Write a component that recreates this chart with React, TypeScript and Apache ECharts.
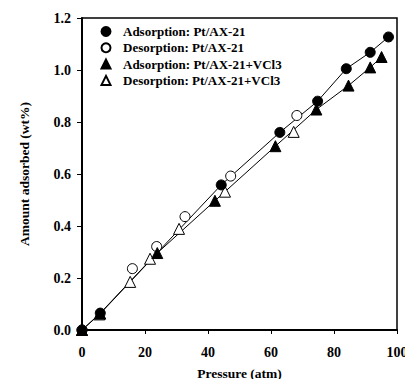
import React, { useEffect, useRef } from "react";
import * as echarts from "echarts";

const adsPtX = [0, 5.8, 44.2, 62.8, 74.8, 83.9, 91.5, 97.3];
const adsPtY = [0, 0.065, 0.558, 0.76, 0.88, 1.005, 1.068, 1.127];
const desPtX = [0, 16, 23.7, 32.7, 47.2, 68.2];
const desPtY = [0, 0.236, 0.321, 0.436, 0.592, 0.825];
const adsVX = [0, 5.8, 23.9, 42.2, 61.4, 74.4, 84.6, 91.5, 95.1];
const adsVY = [0, 0.063, 0.296, 0.497, 0.707, 0.848, 0.94, 1.01, 1.05];
const desVX = [0, 5.5, 15.3, 21.6, 30.8, 45.4, 67.2];
const desVY = [0, 0.06, 0.185, 0.274, 0.389, 0.532, 0.762];

const xTicks = [0, 20, 40, 60, 80, 100];
const yTicks = [0, 0.2, 0.4, 0.6, 0.8, 1.0, 1.2];

const names = [
  "Adsorption: Pt/AX-21",
  "Desorption: Pt/AX-21",
  "Adsorption: Pt/AX-21+VCl3",
  "Desorption: Pt/AX-21+VCl3",
];

const zip = (xs: number[], ys: number[]) => xs.map((x, i) => [x, ys[i]]);

export default function App() {
  const ref = useRef<HTMLDivElement>(null);
  useEffect(() => {
    if (!ref.current) return;
    const chart = echarts.init(ref.current, undefined, { renderer: "svg" });
    const font = "'Liberation Serif', 'Times New Roman', serif";
    const filled = { color: "#000", borderColor: "#000", borderWidth: 1, opacity: 1 };
    const open = { color: "#fff", borderColor: "#000", borderWidth: 1, opacity: 1 };
    chart.setOption({
      animation: false,
      backgroundColor: "#fff",
      textStyle: { fontFamily: font },
      grid: {
        left: 82,
        right: 16,
        top: 18,
        bottom: 57,
        show: true,
        borderColor: "#000",
        borderWidth: 1.5,
        backgroundColor: "transparent",
      },
      legend: {
        orient: "vertical",
        left: 95.5,
        top: 20,
        itemWidth: 9,
        itemHeight: 9,
        itemGap: 3.3,
        data: names,
        textStyle: {
          fontFamily: font,
          fontWeight: "bold",
          fontSize: 13,
          color: "#000",
          padding: [0, 0, 0, 7.5],
        },
      },
      xAxis: {
        type: "value",
        min: xTicks[0],
        max: xTicks[xTicks.length - 1],
        interval: 20,
        name: "Pressure (atm)",
        nameLocation: "middle",
        nameGap: 36.5,
        nameTextStyle: { fontFamily: font, fontWeight: "bold", fontSize: 13.5, color: "#000" },
        axisLine: { show: true, lineStyle: { color: "#000", width: 2 } },
        axisTick: { show: true, inside: false, length: 4, lineStyle: { color: "#000", width: 1 } },
        axisLabel: {
          fontFamily: font,
          fontWeight: "bold",
          fontSize: 14,
          color: "#000",
          margin: 15,
        },
        splitLine: { show: false },
      },
      yAxis: {
        type: "value",
        min: yTicks[0],
        max: yTicks[yTicks.length - 1],
        interval: 0.2,
        name: "Amount adsorbed (wt%)",
        nameLocation: "middle",
        nameGap: 51,
        nameTextStyle: { fontFamily: font, fontWeight: "bold", fontSize: 13.5, color: "#000" },
        axisLine: { show: true, lineStyle: { color: "#000", width: 2 } },
        axisTick: { show: true, inside: false, length: 5, lineStyle: { color: "#000", width: 1 } },
        axisLabel: {
          fontFamily: font,
          fontWeight: "bold",
          fontSize: 14,
          color: "#000",
          margin: 11,
          formatter: (v: number) => v.toFixed(1),
        },
        splitLine: { show: false },
      },
      series: [
        {
          type: "line",
          data: zip(adsPtX, adsPtY),
          showSymbol: false,
          lineStyle: { color: "#000", width: 1 },
          silent: true,
          z: 1,
        },
        {
          type: "line",
          data: zip(adsVX, adsVY),
          showSymbol: false,
          lineStyle: { color: "#000", width: 1 },
          silent: true,
          z: 1,
        },
        {
          name: names[0],
          type: "scatter",
          symbol: "circle",
          symbolSize: 10,
          data: zip(adsPtX, adsPtY),
          itemStyle: filled,
          z: 3,
        },
        {
          name: names[1],
          type: "scatter",
          symbol: "circle",
          symbolSize: 10,
          data: zip(desPtX, desPtY),
          itemStyle: open,
          z: 2,
        },
        {
          name: names[2],
          type: "scatter",
          symbol: "triangle",
          symbolSize: 11,
          data: zip(adsVX, adsVY),
          itemStyle: filled,
          z: 3,
        },
        {
          name: names[3],
          type: "scatter",
          symbol: "triangle",
          symbolSize: 11,
          data: zip(desVX, desVY),
          itemStyle: open,
          z: 2,
        },
      ],
    });
    return () => chart.dispose();
  }, []);
  return <div ref={ref} style={{ width: 413, height: 387, margin: -8 }} />;
}
